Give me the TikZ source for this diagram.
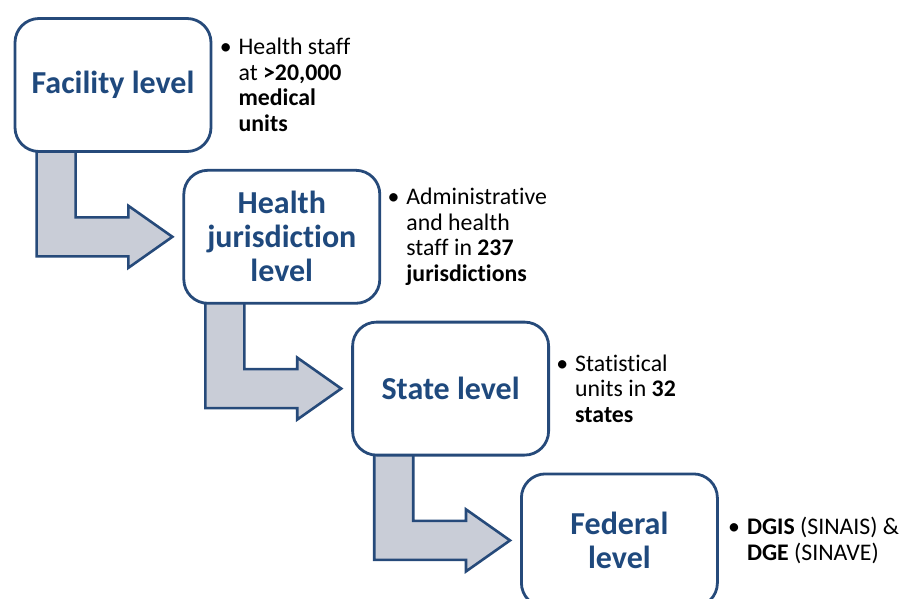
\documentclass[tikz,border=0pt]{standalone}
\usepackage{fontspec}
\setmainfont{Carlito}[Ligatures=NoCommon]
\usetikzlibrary{positioning, calc, backgrounds}
\definecolor{leveltext}{RGB}{31,73,125}
\definecolor{levelborder}{RGB}{38,74,122}
\definecolor{arrowgray}{RGB}{201,205,215}

% bent arrow from the bottom of one box into the side of the next
\newcommand{\levelarrow}[2]{%
  \path[flowarrow] let \p1=(#1.south west), \p2=(#2.west) in
    (\x1+23pt,\y1+6pt) -- (\x1+23pt,\y2-19.5pt) -- (\x2-54pt,\y2-19.5pt) -- (\x2-54pt,\y2-31pt)
    -- (\x2-10pt,\y2) -- (\x2-54pt,\y2+31pt) -- (\x2-54pt,\y2+19.5pt) -- (\x1+62pt,\y2+19.5pt)
    -- (\x1+62pt,\y1+6pt) -- cycle;}

\begin{document}
\begin{tikzpicture}[
        x=1pt, y=-1pt,
        box/.style={rectangle, draw=levelborder, line width=2.8pt, fill=white, rounded corners=24pt, minimum width=196pt, minimum height=133pt, align=center, text=leveltext, font=\fontsize{32}{34}\selectfont\bfseries},
        note/.style={inner sep=0pt, align=left, font=\fontsize{23.8}{25.5}\selectfont},
        flowarrow/.style={draw=levelborder, line width=2.6pt, fill=arrowgray, line join=miter}
    ]
        \useasboundingbox (0,0) rectangle (899,599);

        \node[box] (facility) at (113,85) {Facility level};
        \node[box, below right=16pt and -30pt of facility] (jurisdiction) {Health\\jurisdiction\\level};
        \node[box, below right=16pt and -30pt of jurisdiction] (state) {State level};
        \node[box, below right=16pt and -30pt of state] (federal) {Federal\\level};

        \node[note, right=26pt of facility] (facilitynote) {\llap{\textbullet\hspace{7pt}}Health staff\\at \textbf{>20,000}\\\textbf{medical}\\\textbf{units}};
        \node[note, right=25pt of jurisdiction] (jurisdictionnote) {\llap{\textbullet\hspace{7pt}}Administrative\\and health\\staff in \textbf{237}\\\textbf{jurisdictions}};
        \node[note, right=25pt of state] (statenote) {\llap{\textbullet\hspace{7pt}}Statistical\\units in \textbf{32}\\\textbf{states}};
        \node[note, right=28pt of federal] (federalnote) {\llap{\textbullet\hspace{7pt}}\textbf{DGIS} (SINAIS) \&\\\textbf{DGE} (SINAVE)};

        \begin{scope}[on background layer]
            \levelarrow{facility}{jurisdiction}
            \levelarrow{jurisdiction}{state}
            \levelarrow{state}{federal}
        \end{scope}
    \end{tikzpicture}
\end{document}
